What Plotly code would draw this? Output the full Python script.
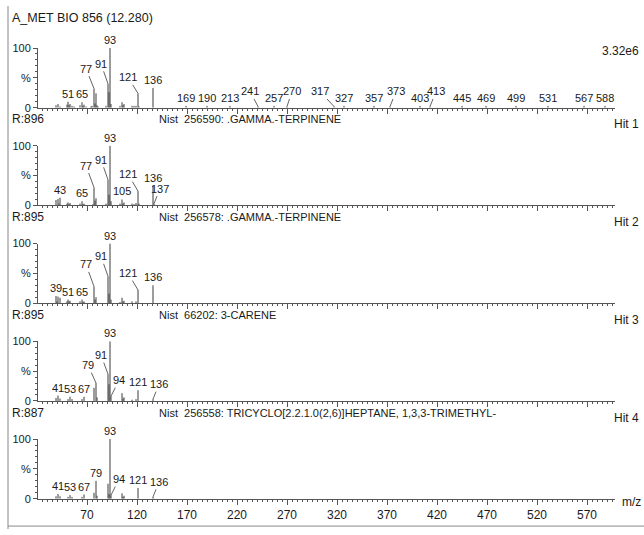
import plotly.graph_objects as go

W, H = 644, 535

# ---------------- data ----------------
mz1 = [39, 41, 43, 50, 51, 52, 53, 55, 57, 63, 65, 66, 67, 69, 74, 75, 77, 78, 79, 80, 81, 89,
       91, 92, 93, 94, 103, 105, 106, 107, 115, 117, 119, 121, 122, 136,
       169, 190, 213, 241, 257, 270, 317, 327, 357, 373, 403, 413, 445, 469, 499, 531, 567, 588]
int1 = [4, 6, 2, 5, 10, 4, 6, 3, 2, 4, 9, 3, 5, 2, 2, 3, 32, 7, 24, 4, 2, 3,
        40, 26, 100, 6, 3, 9, 4, 6, 3, 3, 3, 24, 2, 33,
        3, 3, 3, 2, 3, 2, 2, 3, 3, 2, 3, 2, 3, 3, 3, 3, 3, 3]
lab1 = [51, 65, 77, 91, 93, 121, 136, 169, 190, 213, 241, 257, 270, 317, 327, 357, 373,
        403, 413, 445, 469, 499, 531, 567, 588]

mz2 = [39, 41, 42, 43, 50, 51, 52, 53, 63, 65, 66, 67, 76, 77, 78, 79, 89, 91, 92, 93, 94,
       103, 105, 106, 107, 115, 117, 119, 121, 122, 136, 137]
int2 = [9, 11, 3, 13, 3, 5, 2, 4, 3, 7, 2, 3, 2, 30, 8, 12, 3, 43, 18, 100, 7,
        3, 10, 3, 5, 3, 2, 4, 24, 3, 33, 3]
lab2 = [43, 65, 77, 91, 93, 105, 121, 136, 137]

mz3 = [39, 40, 41, 43, 50, 51, 52, 53, 63, 65, 66, 67, 77, 78, 79, 91, 92, 93, 94,
       103, 105, 106, 107, 115, 119, 121, 136]
int3 = [12, 3, 11, 9, 3, 6, 3, 4, 3, 6, 2, 3, 28, 6, 10, 45, 16, 100, 6,
        2, 9, 3, 4, 3, 3, 22, 30]
lab3 = [39, 51, 65, 77, 91, 93, 121, 136]

mz4 = [39, 41, 43, 51, 53, 55, 65, 67, 77, 79, 80, 91, 92, 93, 94, 105, 106, 107, 115, 119,
       121, 136]
int4 = [5, 9, 4, 3, 7, 3, 3, 7, 22, 30, 6, 45, 28, 100, 8, 13, 4, 6, 2, 3, 18, 3]
lab4 = [41, 53, 67, 79, 91, 93, 94, 121, 136]

mz5 = [39, 41, 43, 51, 53, 55, 65, 67, 77, 79, 80, 91, 92, 93, 94, 105, 106, 107, 121, 136]
int5 = [4, 8, 4, 3, 6, 3, 3, 7, 10, 30, 5, 25, 8, 100, 6, 9, 3, 5, 18, 3]
lab5 = [41, 53, 67, 79, 93, 94, 121, 136]

left_texts = ["A_MET BIO 856 (12.280)", "R:896", "R:895", "R:895", "R:887"]
mid_texts = ["", "Nist  256590: .GAMMA.-TERPINENE", "Nist  256578: .GAMMA.-TERPINENE",
             "Nist  66202: 3-CARENE",
             "Nist  256558: TRICYCLO[2.2.1.0(2,6)]HEPTANE, 1,3,3-TRIMETHYL-"]
right_texts = ["3.32e6", "Hit 1", "Hit 2", "Hit 3", "Hit 4"]
y_tick_vals = [0, 50, 100]
y_tick_text = ["0", "%", "100"]
x_tick_vals = [70, 120, 170, 220, 270, 320, 370, 420, 470, 520, 570]
x_range = [21, 598]

# ---------------- style ----------------
X0, X1 = 38, 615
base_px = [104, 204, 304, 404, 504]
top_px = [43, 143, 243, 343, 443]
row_left_px = [12, 116, 216, 316, 416]
row_right_px = [46, 121, 221, 321, 421]
leaders = [
    {77: (-8, -20), 91: (-7, -20), 121: (-10, -16), 241: (-8, -15), 270: (5, -15),
     317: (-14, -15), 373: (6, -15), 413: (6, -15)},
    {77: (-8, -22), 91: (-7, -20), 121: (-10, -17), 137: (6, -15)},
    {77: (-8, -22), 91: (-7, -20), 121: (-10, -17)},
    {79: (-8, -18), 91: (-7, -19), 94: (8, -16), 136: (6, -15)},
    {94: (8, -16), 136: (6, -15)},
]
FONT = "Liberation Sans, Arial, sans-serif"
TXT = "#1a1a1a"
STICK = "#3a3a3a"
AX = "#555555"
FS = 12        # R:, Hit, axis ticks
FS_TITLE = 12.5
FS_LAB = 11    # peak labels
FS_MID = 11    # library names
FS_YT = 11     # y tick labels

panels = [(mz1, int1, lab1), (mz2, int2, lab2), (mz3, int3, lab3), (mz4, int4, lab4),
          (mz5, int5, lab5)]

fig = go.Figure()
annotations = []
layout_axes = {}

for k, (mz, it, lab) in enumerate(panels):
    sx = "" if k == 0 else str(k + 1)
    xs, ys = [], []
    for m, v in zip(mz, it):
        xs += [m, m, None]
        ys += [0, v, None]
    fig.add_trace(go.Scatter(x=xs, y=ys, mode="lines",
                             line=dict(color=STICK, width=1),
                             xaxis="x" + sx, yaxis="y" + sx,
                             hoverinfo="skip", showlegend=False))
    xa = dict(domain=[X0 / W, X1 / W], range=x_range, anchor="y" + sx,
              showline=True, linecolor=AX, linewidth=1,
              ticks="outside", tickvals=x_tick_vals, ticklen=5, tickcolor=AX,
              minor=dict(dtick=5, tick0=20, ticklen=2, ticks="outside", tickcolor=AX),
              showgrid=False, zeroline=False,
              showticklabels=(k == 4),
              tickfont=dict(family=FONT, size=FS, color=TXT))
    if k > 0:
        xa["matches"] = "x"
    ya = dict(domain=[1 - base_px[k] / H, 1 - top_px[k] / H], range=[0, 100],
              anchor="x" + sx, showline=True, linecolor=AX, linewidth=1,
              ticks="outside", tickvals=y_tick_vals, ticktext=y_tick_text,
              ticklen=4, tickcolor=AX,
              minor=dict(dtick=10, tick0=0, ticklen=2, ticks="outside", tickcolor=AX),
              showgrid=False, zeroline=False,
              tickfont=dict(family=FONT, size=FS_YT, color=TXT))
    layout_axes["xaxis" + sx] = xa
    layout_axes["yaxis" + sx] = ya

    lookup = dict(zip(mz, it))
    for m in lab:
        v = lookup[m]
        if m in leaders[k]:
            ax, ay = leaders[k][m]
            annotations.append(dict(x=m, y=v, xref="x" + sx, yref="y" + sx,
                                    text=str(m), showarrow=True, arrowhead=0,
                                    arrowwidth=0.8, arrowcolor=STICK, standoff=0,
                                    ax=ax, ay=ay,
                                    font=dict(family=FONT, size=FS_LAB, color=TXT)))
        else:
            annotations.append(dict(x=m, y=v, xref="x" + sx, yref="y" + sx,
                                    text=str(m), showarrow=False, yanchor="bottom",
                                    yshift=0,
                                    font=dict(family=FONT, size=FS_LAB, color=TXT)))

    annotations.append(dict(x=10 / W, y=1 - row_left_px[k] / H, xref="paper", yref="paper",
                            text=left_texts[k], showarrow=False, xanchor="left",
                            yanchor="middle",
                            font=dict(family=FONT, size=FS_TITLE if k == 0 else FS,
                                      color=TXT)))
    if mid_texts[k]:
        annotations.append(dict(x=157 / W, y=1 - row_left_px[k] / H, xref="paper",
                                yref="paper", text=mid_texts[k], showarrow=False,
                                xanchor="left", yanchor="middle",
                                font=dict(family=FONT, size=FS_MID, color=TXT)))
    annotations.append(dict(x=641 / W, y=1 - row_right_px[k] / H, xref="paper",
                            yref="paper", text=right_texts[k], showarrow=False,
                            xanchor="right", yanchor="middle",
                            font=dict(family=FONT, size=FS, color=TXT)))

annotations.append(dict(x=620 / W, y=1 - 507 / H, xref="paper", yref="paper",
                        text="m/z", showarrow=False, xanchor="left", yanchor="middle",
                        font=dict(family=FONT, size=FS, color=TXT)))

shapes = [
    dict(type="line", xref="paper", yref="paper", x0=8 / W, x1=8 / W, y0=0, y1=1,
         line=dict(color="#888888", width=1)),
    dict(type="line", xref="paper", yref="paper", x0=8 / W, x1=1, y0=1 - 532 / H,
         y1=1 - 532 / H, line=dict(color="#888888", width=1)),
]

fig.update_layout(width=W, height=H, margin=dict(l=0, r=0, t=0, b=0),
                  paper_bgcolor="white", plot_bgcolor="white",
                  annotations=annotations, shapes=shapes, **layout_axes)

fig.write_html("out.html", config={"displayModeBar": False},
               post_script="document.body.style.margin='0';"
                           "document.body.style.overflow='hidden';")
